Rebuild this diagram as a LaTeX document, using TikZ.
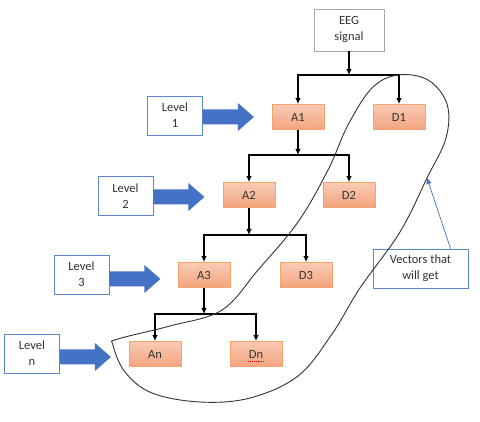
\documentclass[tikz,border=0pt]{standalone}
\usepackage{fontspec}
\setmainfont{Carlito}
\usetikzlibrary{arrows.meta,calc}
\definecolor{obord}{HTML}{F4A36C}
\definecolor{otop}{HTML}{F8CBB2}
\definecolor{obot}{HTML}{F4A47F}
\definecolor{lblue}{HTML}{4472C4}
\definecolor{bblue}{HTML}{5B87CF}
\definecolor{gbord}{HTML}{A6A6A6}
\definecolor{txt}{HTML}{333333}
\tikzset{
  pics/barrow/.style={code={\fill[lblue] (0,-7.5)--(35,-7.5)--(35,-14)--(51,0)--(35,14)--(35,7.5)--(0,7.5)--cycle;}},
}
\begin{document}
\begin{tikzpicture}[x=1pt,y=-1pt,
  obox/.style={draw=obord, line width=0.8pt, top color=otop, bottom color=obot, minimum width=52pt, minimum height=25pt, inner sep=0pt, text=txt, font=\fontsize{12.5}{14}\selectfont},
  lbox/.style={draw=bblue, line width=0.8pt, fill=white, minimum width=55pt, minimum height=39pt, inner sep=0pt, align=center, text=txt, font=\fontsize{12.5}{16}\selectfont},
  gbox/.style={lbox, draw=gbord, minimum width=70pt, minimum height=42pt},
  split/.style={line width=1.4pt, {Latex[length=6pt,width=5.5pt]}-{Latex[length=6pt,width=5.5pt]}},
  feed/.style={line width=1.4pt, -{Latex[length=6pt,width=5.5pt]}},
  loopline/.style={line width=0.9pt, black!80},
]
\useasboundingbox (0,0) rectangle (480,422);

% orange boxes
\node[obox] (A1) at (298,117) {A1};
\node[obox] (D1) at (399,117) {D1};
\node[obox] (A2) at (249,195) {A2};
\node[obox] (D2) at (349,195) {D2};
\node[obox] (A3) at (204,275) {A3};
\node[obox] (D3) at (306,275) {D3};
\node[obox] (An) at (155,354) {An};
\node[obox] (Dn) at (256,354) {Dn};
\draw[red, densely dotted, line width=0.9pt] ($(Dn.center)+(-8,7.5)$) -- ($(Dn.center)+(8,7.5)$);

% source and labels
\node[gbox] (eeg) at (349,30) {EEG\\signal};
\node[lbox] (L1) at (175,115.5) {Level\\1};
\node[lbox] (L2) at (125.5,196) {Level\\2};
\node[lbox] (L3) at (81.5,274.5) {Level\\3};
\node[lbox] (Ln) at (32,353.5) {Level\\n};
\node[lbox, minimum width=95pt, minimum height=39pt] (vec) at (420.5,268.5) {Vectors that\\will get};

% block arrows
\pic at (L1.east |- 0,117) {barrow};
\pic at (L2.east |- 0,197) {barrow};
\pic at (L3.east |- 0,279) {barrow};
\pic at (Ln.east |- 0,357) {barrow};

% junctions
\coordinate (j1) at (349,75);
\coordinate (j2) at (298,155);
\coordinate (j3) at (251,235);
\coordinate (jn) at (204,314);

\draw[feed] (eeg.south) -- (j1);
\draw[split] (A1.north) |- (j1) -| (D1.north);
\draw[feed] (A1.south) -- (A1.south |- j2);
\draw[split] (A2.north) |- (j2) -| (D2.north);
\draw[feed] (A2.south) -- (A2.south |- j3);
\draw[split] (A3.north) |- (j3) -| (D3.north);
\draw[feed] (A3.south) -- (A3.south |- jn);
\draw[split] (An.north) |- (jn) -| (Dn.north);

% enclosing loop
\draw[loopline] plot[smooth cycle, tension=0.6] coordinates {
  (398,75) (428,80) (447,104) (446,138) (427,178) (400,232) (360,288)
  (332,334) (298,376) (250,398) (200,402) (152,393) (125,372) (113,345) (118,339)
  (170,326) (222,310) (258,270) (298,222) (328,170) (348,125) (372,88)};
\coordinate (ontheloop) at (427,178);
\draw[lblue, line width=0.7pt, -{Triangle[length=6pt,width=5pt]}] ($(vec.north)+(30,0)$) -- (ontheloop);
\end{tikzpicture}
\end{document}
